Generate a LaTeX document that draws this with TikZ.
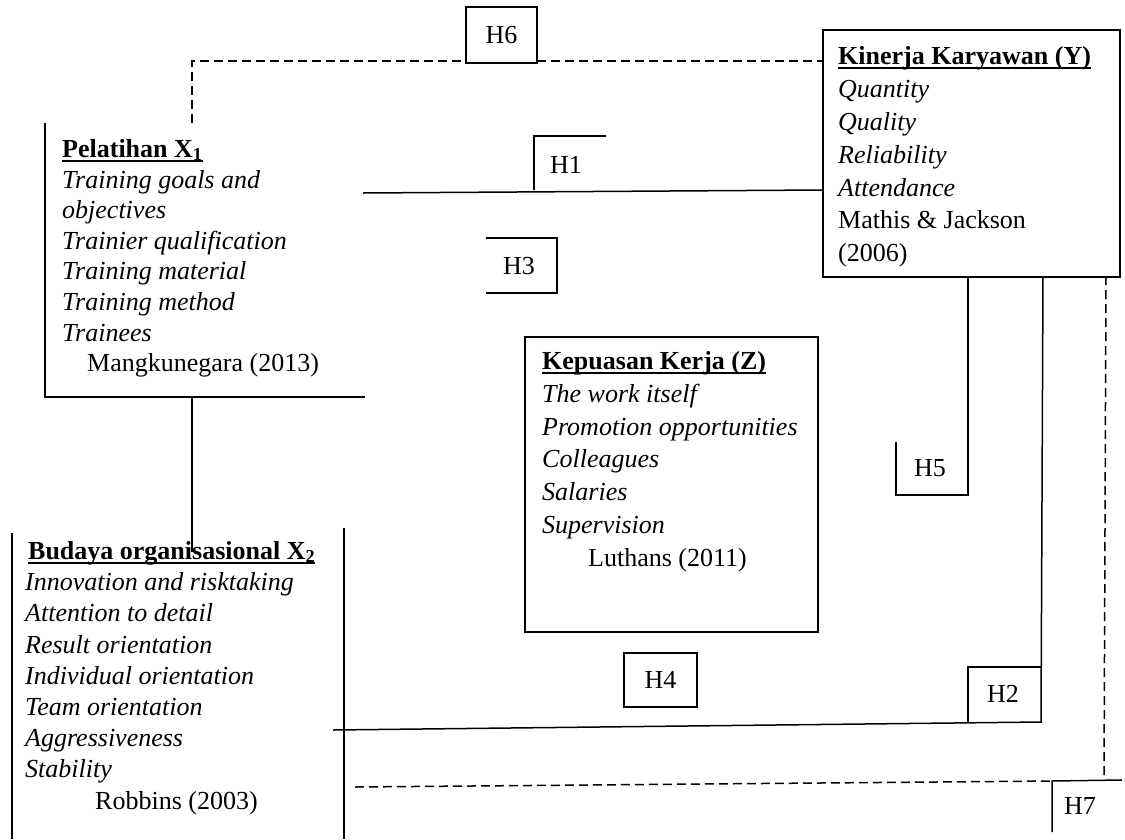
\documentclass[tikz,border=0pt]{standalone}
\usepackage{fontspec}
\setmainfont{Liberation Serif}
\begin{document}
\begin{tikzpicture}[x=1pt,y=-1pt,
  every node/.style={inner sep=0pt},
  txt/.style={anchor=base west, font=\fontsize{26}{31}\selectfont},
  ttl/.style={txt, font=\fontsize{26}{31}\selectfont\bfseries},
  itm/.style={txt, font=\fontsize{26}{31}\selectfont\itshape},
  lbl/.style={font=\fontsize{26}{31}\selectfont},
  panel/.style={draw, line width=1.5pt, anchor=north west},
  hbox/.style={draw, line width=1.5pt, lbl},
  link/.style={line width=1.5pt},
  dashlink/.style={line width=1.5pt, dash pattern=on 9pt off 5pt},
  uline/.style={line width=2pt}]
\useasboundingbox (0,0) rectangle (1125,839);

% ---------- variable panels ----------
\node[panel, minimum width=297pt, minimum height=247pt] (Y) at (822,29) {};
\node[panel, minimum width=293pt, minimum height=295pt] (Z) at (524,336) {};

% Pelatihan (X1): left and bottom sides only
\coordinate (X1nw) at (45,123);
\coordinate (X1sw) at (45,397);
\coordinate (X1se) at (365,397);
\draw[link] (X1nw) -- (X1sw) -- (X1se);

% Budaya organisasional (X2): two vertical sides
\coordinate (X2nw) at (12,533);
\coordinate (X2sw) at (12,839);
\coordinate (X2ne) at (344,528);
\coordinate (X2se) at (344,839);
\draw[link] (X2nw) -- (X2sw);
\draw[link] (X2ne) -- (X2se);

% ---------- texts: Pelatihan ----------
\node[ttl] (x1t) at (62,157) {Pelatihan X\textsubscript{1}};
\draw[uline] ([yshift=-3.5pt]x1t.base west) -- ([yshift=-3.5pt]x1t.base east);
\node[itm] (x1a) at (62,188) {Training goals and};
\node[itm] (x1b) at (62,218) {objectives};
\node[itm] (x1c) at (62,249) {Trainier qualification};
\node[itm] (x1d) at (62,279) {Training material};
\node[itm] (x1e) at (62,310) {Training method};
\node[itm] (x1f) at (62,341) {Trainees};
\node[txt] (x1s) at (87,371) {Mangkunegara (2013)};

% ---------- texts: Kinerja Karyawan ----------
\node[ttl] (yt) at (838,64) {Kinerja Karyawan (Y)};
\draw[uline] ([yshift=-3.5pt]yt.base west) -- ([yshift=-3.5pt]yt.base east);
\node[itm] (ya) at (838,97) {Quantity};
\node[itm] (yb) at (838,130) {Quality};
\node[itm] (yc) at (838,163) {Reliability};
\node[itm] (yd) at (838,196) {Attendance};
\node[txt] (ys) at (838,228) {Mathis \& Jackson};
\node[txt] (yy) at (838,261) {(2006)};

% ---------- texts: Kepuasan Kerja ----------
\node[ttl] (zt) at (542,369) {Kepuasan Kerja (Z)};
\draw[uline] ([yshift=-3.5pt]zt.base west) -- ([yshift=-3.5pt]zt.base east);
\node[itm] (za) at (542,402) {The work itself};
\node[itm] (zb) at (542,435) {Promotion opportunities};
\node[itm] (zc) at (542,467) {Colleagues};
\node[itm] (zd) at (542,500) {Salaries};
\node[itm] (ze) at (542,533) {Supervision};
\node[txt] (zs) at (588,566) {Luthans (2011)};

% ---------- texts: Budaya organisasional ----------
\node[ttl] (x2t) at (28,559) {Budaya organisasional X\textsubscript{2}};
\draw[uline] ([yshift=-3.5pt]x2t.base west) -- ([yshift=-3.5pt]x2t.base east);
\node[itm] (x2a) at (25,590) {Innovation and risktaking};
\node[itm] (x2b) at (25,621) {Attention to detail};
\node[itm] (x2c) at (25,653) {Result orientation};
\node[itm] (x2d) at (25,684) {Individual orientation};
\node[itm] (x2e) at (25,715) {Team orientation};
\node[itm] (x2f) at (25,746) {Aggressiveness};
\node[itm] (x2g) at (25,777) {Stability};
\node[txt] (x2s) at (95,809) {Robbins (2003)};

% ---------- X1 -- X2 ----------
\coordinate (X1b) at (192,397);
\coordinate (X2t) at (192,552);
\draw[link] (X1b) -- (X2t);

% ---------- H6 (dashed, X1 -- Y) ----------
\node[hbox, minimum width=71pt, minimum height=56pt] (H6) at (501.5,35) {H6};
\coordinate (X1top) at (192,123);
\coordinate (c6a) at (192,61);
\coordinate (c6b) at (466,61);
\coordinate (c6c) at (537,61);
\coordinate (Y6) at (822,61);
\draw[dashlink] (X1top) -- (c6a) -- (c6b);
\draw[dashlink] (c6c) -- (Y6);

% ---------- H1 (X1 -- Y) ----------
\coordinate (X1r) at (363,193);
\coordinate (Y1) at (822,190);
\coordinate (h1a) at (534,190);
\coordinate (h1b) at (534,136);
\coordinate (h1c) at (606,136);
\draw[link] (X1r) -- (Y1);
\draw[link] (h1a) -- (h1b) -- (h1c);
\node[lbl] (H1) at (566,165) {H1};

% ---------- H3 ----------
\coordinate (h3a) at (486,238);
\coordinate (h3b) at (557,238);
\coordinate (h3c) at (557,293);
\coordinate (h3d) at (486,293);
\draw[link] (h3a) -- (h3b) -- (h3c) -- (h3d);
\node[lbl] (H3) at (519,266) {H3};

% ---------- H5 (Z -- Y) ----------
\coordinate (Y5) at (968,276);
\coordinate (h5b) at (968,495);
\coordinate (h5c) at (896,495);
\coordinate (h5d) at (896,442);
\coordinate (h5e) at (968,442);
\draw[link] (Y5) -- (h5b) -- (h5c) -- (h5d);
\draw[line width=2.6pt] (h5e) -- (h5b);
\node[lbl] (H5) at (930,468) {H5};

% ---------- H2 / H4 (X2 -- Y) ----------
\coordinate (Y2) at (1043,276);
\coordinate (h2b) at (1041,722);
\coordinate (X2r) at (333,730);
\coordinate (h2c) at (968,667);
\coordinate (h2d) at (1041,667);
\coordinate (h2e) at (968,722);
\draw[link] (Y2) -- (h2b) -- (X2r);
\draw[link] (h2d) -- (h2c) -- (h2e);
\node[lbl] (H2) at (1003,694) {H2};
\node[hbox, minimum width=73pt, minimum height=54pt] (H4) at (660.5,680) {H4};

% ---------- H7 (dashed, X2 -- Y) ----------
\coordinate (Y7) at (1106,276);
\coordinate (h7a) at (1104,780);
\coordinate (X2d) at (355,787);
\coordinate (h7b) at (1052,781);
\coordinate (h7c) at (1052,832);
\coordinate (h7d) at (1122,780);
\draw[dashlink] (Y7) -- (h7a);
\draw[dashlink] (X2d) -- (h7b);
\draw[link] (h7c) -- (h7b) -- (h7d);
\node[lbl] (H7) at (1080,806) {H7};
\end{tikzpicture}
\end{document}
